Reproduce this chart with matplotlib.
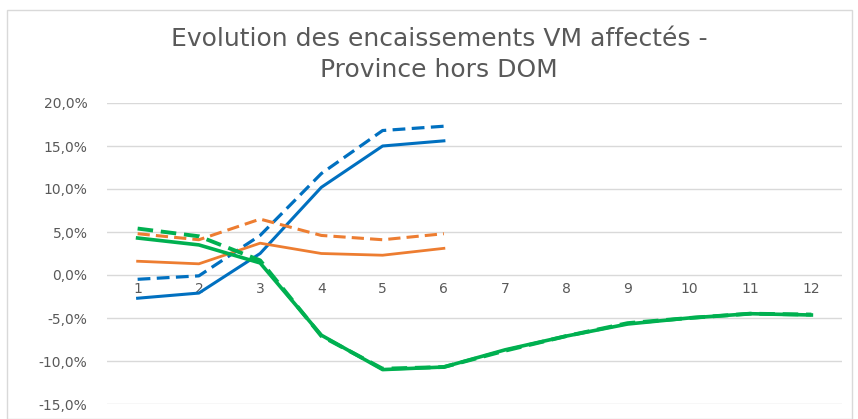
import matplotlib.pyplot as plt
from matplotlib.patches import Rectangle
from matplotlib.ticker import FuncFormatter

# Valeurs (en %)
mois = list(range(1, 13))
bleu_plein = [-2.7, -2.1, 2.5, 10.2, 15.0, 15.6]
bleu_tirets = [-0.5, -0.1, 4.6, 11.8, 16.8, 17.3]
orange_plein = [1.6, 1.3, 3.7, 2.5, 2.3, 3.1]
orange_tirets = [4.8, 4.1, 6.5, 4.6, 4.1, 4.8]
vert_plein = [4.3, 3.5, 1.4, -7.0, -11.0, -10.7, -8.7, -7.1, -5.7, -5.0, -4.5, -4.65]
vert_tirets = [5.4, 4.5, 1.7, -7.1, -10.9, -10.7, -8.8, -7.1, -5.6, -5.0, -4.5, -4.6]

BLEU = "#0070C0"
ORANGE = "#ED7D31"
VERT = "#00B050"
GRIS = "#595959"

plt.rcParams["font.family"] = ["DejaVu Sans"]

fig = plt.figure(figsize=(8.58, 4.19), dpi=100)
fig.patches.append(Rectangle((7 / 858, 0), 845 / 858, 1 - 10 / 419, transform=fig.transFigure,
                             fill=False, edgecolor="#d9d9d9", linewidth=1))
ax = fig.add_axes([107 / 858, 15 / 419, 735 / 858, 301 / 419])

ax.plot(mois[:6], bleu_tirets, color=BLEU, lw=2.3, dashes=(4, 2))
ax.plot(mois[:6], bleu_plein, color=BLEU, lw=2.2)
ax.plot(mois[:6], orange_tirets, color=ORANGE, lw=2.2, dashes=(4, 2))
ax.plot(mois[:6], orange_plein, color=ORANGE, lw=2.0)
ax.plot(mois, vert_tirets, color=VERT, lw=2.8, dashes=(4, 2))
ax.plot(mois, vert_plein, color=VERT, lw=2.6)

ax.set_xlim(0.5, 12.5)
ax.set_ylim(-15, 20)
ax.set_yticks(range(-15, 21, 5))
ax.yaxis.set_major_formatter(FuncFormatter(lambda v, p: f"{v:.1f}%".replace(".", ",")))
ax.grid(axis="y", color="#d9d9d9", lw=1)
ax.set_axisbelow(True)
for s in ax.spines.values():
    s.set_visible(False)
ax.spines["bottom"].set_position(("data", 0))
ax.set_xticks(mois)
ax.tick_params(length=0, labelsize=10, labelcolor=GRIS, pad=5)
ax.tick_params(axis="y", pad=14)

fig.text(0.512, 0.908, "Evolution des encaissements VM affectés -", ha="center", va="center",
         fontsize=18, color=GRIS)
fig.text(0.512, 0.834, "Province hors DOM", ha="center", va="center",
         fontsize=18, color=GRIS)

fig.savefig("out.png", dpi=100)
